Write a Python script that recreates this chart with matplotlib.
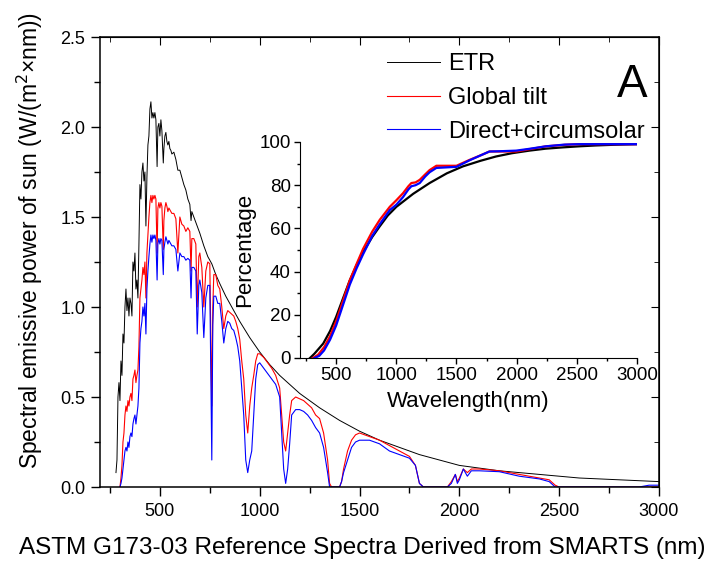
import matplotlib
matplotlib.use("Agg")
import matplotlib.pyplot as plt
from matplotlib.ticker import MultipleLocator, FormatStrFormatter

plt.rcParams['font.family'] = ['Liberation Sans', 'DejaVu Sans']

# ---------------- main spectra ----------------
etr_wl = [280, 285, 290, 295, 300, 305, 310, 315, 320, 325, 330, 335, 340, 345, 350,
          355, 360, 365, 370, 375, 380, 385, 390, 395, 400, 405, 410, 415, 420, 425,
          430, 435, 440, 445, 450, 455, 460, 465, 470, 475, 480, 486, 490, 495, 500,
          505, 510, 517, 520, 525, 530, 535, 540, 545, 550, 555, 560, 570, 580, 590,
          600, 610, 620, 630, 640, 650, 656, 660, 680, 700, 720, 740, 760, 780, 800,
          830, 860, 900, 950, 1000, 1050, 1100, 1150, 1200, 1300, 1400, 1500, 1600,
          1700, 1800, 1900, 2000, 2200, 2400, 2600, 2800, 3000]
etr_val = [0.08, 0.15, 0.50, 0.58, 0.48, 0.70, 0.62, 0.85, 0.80, 1.00, 1.10, 0.98, 1.05, 0.95, 1.05,
           1.02, 0.95, 1.25, 1.20, 1.30, 1.10, 1.15, 1.05, 1.35, 1.68, 1.60, 1.75, 1.80, 1.70, 1.75,
           1.45, 1.72, 1.90, 1.95, 2.10, 2.14, 2.05, 2.08, 2.05, 2.08, 2.04, 1.78, 2.00, 2.02, 1.95,
           2.04, 1.98, 1.80, 1.88, 1.95, 1.97, 1.92, 1.90, 1.92, 1.88, 1.87, 1.85, 1.86, 1.82, 1.76,
           1.76, 1.72, 1.68, 1.65, 1.60, 1.57, 1.48, 1.53, 1.47, 1.41, 1.34, 1.28, 1.24, 1.18, 1.13,
           1.06, 1.00, 0.92, 0.83, 0.75, 0.68, 0.62, 0.57, 0.52, 0.44, 0.37, 0.31, 0.26,
           0.22, 0.18, 0.15, 0.12, 0.09, 0.07, 0.05, 0.04, 0.03]

glob_wl = [300, 305, 310, 315, 320, 325, 330, 335, 340, 345, 350, 355, 360, 365, 370,
           375, 380, 385, 390, 395, 400, 405, 410, 415, 420, 425, 430, 435, 440, 445,
           450, 455, 460, 465, 470, 475, 480, 486, 490, 495, 500, 505, 510, 517, 520,
           525, 530, 535, 540, 545, 550, 560, 570, 580, 590, 600, 610, 620, 630, 640,
           650, 656, 660, 670, 680, 687, 695, 700, 710, 720, 730, 740, 750, 760, 765,
           770, 780, 790, 800, 810, 820, 830, 840, 850, 860, 870, 880, 890, 900, 910,
           920, 930, 940, 950, 960, 970, 980, 990, 1000, 1020, 1040, 1060, 1080, 1100,
           1110, 1120, 1130, 1140, 1150, 1160, 1180, 1200, 1220, 1240, 1260, 1280, 1300,
           1320, 1340, 1350, 1360, 1400, 1410, 1420, 1440, 1460, 1480, 1500, 1550, 1600,
           1650, 1700, 1750, 1780, 1800, 1820, 1940, 1960, 1980, 1990, 2000, 2020, 2040,
           2060, 2100, 2200, 2300, 2400, 2450, 2480, 2500, 3000]
glob_val = [0.00, 0.05, 0.12, 0.25, 0.30, 0.40, 0.45, 0.42, 0.48, 0.45, 0.50, 0.52, 0.48, 0.60, 0.62,
            0.65, 0.58, 0.62, 0.65, 0.78, 1.05, 1.10, 1.15, 1.22, 1.18, 1.25, 1.05, 1.30, 1.40, 1.50,
            1.58, 1.62, 1.58, 1.62, 1.60, 1.62, 1.60, 1.30, 1.55, 1.58, 1.55, 1.58, 1.56, 1.32, 1.48,
            1.55, 1.58, 1.56, 1.53, 1.55, 1.54, 1.52, 1.52, 1.49, 1.30, 1.50, 1.46, 1.45, 1.42, 1.44,
            1.42, 1.20, 1.38, 1.38, 1.35, 1.00, 1.28, 1.30, 1.22, 1.00, 1.20, 1.25, 1.24, 0.45, 1.00,
            1.18, 1.18, 1.12, 1.10, 1.00, 0.88, 0.95, 0.98, 0.97, 0.96, 0.95, 0.92, 0.88, 0.82, 0.70,
            0.60, 0.40, 0.30, 0.45, 0.55, 0.62, 0.70, 0.74, 0.74, 0.72, 0.69, 0.66, 0.62, 0.55,
            0.40, 0.25, 0.20, 0.30, 0.40, 0.48, 0.50, 0.49, 0.48, 0.46, 0.44, 0.40, 0.38,
            0.30, 0.15, 0.02, 0.00, 0.00, 0.03, 0.10, 0.20, 0.26, 0.29, 0.30, 0.28, 0.26,
            0.23, 0.20, 0.17, 0.12, 0.02, 0.00, 0.00, 0.03, 0.07, 0.03, 0.05, 0.10, 0.08,
            0.10, 0.10, 0.09, 0.07, 0.05, 0.04, 0.01, 0.00, 0.00]

dir_wl = [300, 305, 310, 315, 320, 325, 330, 335, 340, 345, 350, 355, 360, 365, 370,
          375, 380, 385, 390, 395, 400, 405, 410, 415, 420, 425, 430, 435, 440, 445,
          450, 455, 460, 465, 470, 475, 480, 486, 490, 495, 500, 505, 510, 517, 520,
          525, 530, 535, 540, 545, 550, 560, 570, 580, 590, 600, 610, 620, 630, 640,
          650, 656, 660, 670, 680, 687, 695, 700, 710, 720, 730, 740, 750, 760, 765,
          770, 780, 790, 800, 810, 820, 830, 840, 850, 860, 870, 880, 890, 900, 910,
          920, 930, 940, 950, 960, 970, 980, 990, 1000, 1020, 1040, 1060, 1080, 1100,
          1110, 1120, 1130, 1140, 1150, 1160, 1180, 1200, 1220, 1240, 1260, 1280, 1300,
          1320, 1340, 1350, 1360, 1400, 1410, 1420, 1440, 1460, 1480, 1500, 1550, 1600,
          1650, 1700, 1750, 1780, 1800, 1820, 1940, 1960, 1980, 1990, 2000, 2020, 2040,
          2060, 2100, 2200, 2300, 2400, 2450, 2480, 2500, 2900, 2950, 3000]
dir_val = [0.00, 0.02, 0.05, 0.10, 0.15, 0.20, 0.22, 0.20, 0.25, 0.22, 0.28, 0.30, 0.28, 0.35, 0.38,
           0.40, 0.35, 0.40, 0.45, 0.55, 0.80, 0.88, 0.92, 1.00, 0.95, 1.02, 0.85, 1.10, 1.20, 1.28,
           1.35, 1.40, 1.36, 1.40, 1.38, 1.40, 1.37, 1.15, 1.35, 1.38, 1.35, 1.38, 1.37, 1.18, 1.32,
           1.36, 1.39, 1.37, 1.35, 1.37, 1.36, 1.34, 1.34, 1.32, 1.20, 1.30, 1.28, 1.28, 1.26, 1.27,
           1.26, 1.05, 1.22, 1.22, 1.20, 0.85, 1.12, 1.15, 1.08, 0.83, 1.05, 1.12, 1.12, 0.15, 0.90,
           1.06, 1.06, 1.02, 1.02, 0.92, 0.80, 0.88, 0.92, 0.91, 0.88, 0.87, 0.83, 0.78, 0.70, 0.55,
           0.40, 0.15, 0.08, 0.15, 0.20, 0.40, 0.60, 0.68, 0.69, 0.66, 0.63, 0.60, 0.57, 0.50,
           0.30, 0.10, 0.02, 0.10, 0.24, 0.40, 0.43, 0.43, 0.42, 0.40, 0.37, 0.33, 0.30,
           0.22, 0.08, 0.00, 0.00, 0.00, 0.03, 0.08, 0.15, 0.22, 0.25, 0.26, 0.26, 0.24,
           0.20, 0.18, 0.16, 0.12, 0.02, 0.00, 0.00, 0.02, 0.07, 0.02, 0.04, 0.10, 0.06,
           0.09, 0.09, 0.085, 0.06, 0.045, 0.03, 0.00, 0.00, 0.00, 0.01, 0.01]

# ---------------- inset cumulative (percentage) ----------------
cum_etr_wl = [283, 320, 393, 450, 500, 560, 614, 670, 724, 800, 863, 930, 1001, 1140, 1277,
              1420, 1553, 1700, 1829, 1960, 2105, 2240, 2381, 2520, 2658, 2800, 3000]
cum_etr = [0, 2, 6.7, 12.5, 19, 28, 36, 43, 49, 56, 61, 66, 70, 76, 81,
           85.5, 88.7, 91.3, 93.3, 94.8, 96, 96.9, 97.5, 98, 98.4, 98.7, 99]
cum_glob_wl = [306, 350, 400, 449, 500, 560, 614, 670, 724, 800, 863, 946, 1000, 1056, 1100,
               1125, 1160, 1195, 1240, 1277, 1333, 1400, 1500, 1608, 1700, 1774, 1850, 1995,
               2100, 2243, 2400, 2519, 2700, 3000]
cum_glob = [0, 1.5, 5, 10, 17, 27, 36, 43.5, 50.5, 58.5, 64, 70, 73, 76.3, 79.5,
            81, 81.3, 82.5, 85, 87, 89, 89, 89, 91.7, 93.8, 95.6, 95.6, 95.6,
            96.6, 98, 98.7, 99, 99, 99]
cum_dir_wl = [320, 360, 400, 450, 500, 560, 614, 670, 724, 800, 863, 946, 1001, 1056, 1100,
              1125, 1160, 1195, 1240, 1277, 1333, 1400, 1500, 1608, 1700, 1774, 1850, 1995,
              2100, 2243, 2400, 2519, 2700, 3000]
cum_dir = [0, 1, 3.5, 8.5, 15, 25, 34, 41.5, 48, 56.5, 62, 68.5, 71, 74.5, 78,
           79.5, 80, 81, 84, 86, 88, 88.2, 88.5, 91.5, 93.8, 95.6, 95.7, 96,
           96.8, 98, 98.8, 99, 99, 99]

W, H = 712, 565
fig = plt.figure(figsize=(W / 100, H / 100), dpi=100)

# main axes
ax = fig.add_axes([100 / W, 1 - 487 / H, 559 / W, 450 / H])
ax.plot(etr_wl, etr_val, color='black', lw=0.7, label='ETR')
ax.plot(glob_wl, glob_val, color='red', lw=0.8, label='Global tilt')
ax.plot(dir_wl, dir_val, color='blue', lw=0.8, label='Direct+circumsolar')
ax.set_xlim(200, 3000)
ax.set_ylim(0, 2.5)
ax.set_xticks([500, 1000, 1500, 2000, 2500, 3000])
ax.xaxis.set_minor_locator(MultipleLocator(250))
ax.yaxis.set_major_locator(MultipleLocator(0.5))
ax.yaxis.set_minor_locator(MultipleLocator(0.25))
ax.yaxis.set_major_formatter(FormatStrFormatter('%.1f'))
ax.tick_params(which='major', direction='out', length=6.5, width=1, labelsize=13, pad=4)
ax.tick_params(axis='x', which='major', pad=5)
ax.tick_params(which='minor', direction='out', length=4, width=1)
for s in ax.spines.values():
    s.set_linewidth(1.1)

secx = ax.secondary_xaxis('top')
secx.set_xticks([500, 1000, 1500, 2000, 2500, 3000])
secx.xaxis.set_minor_locator(MultipleLocator(250))
secx.tick_params(which='major', direction='in', length=6, labeltop=False)
secx.tick_params(which='minor', direction='in', length=3.5)
secy = ax.secondary_yaxis('right')
secy.yaxis.set_major_locator(MultipleLocator(0.5))
secy.yaxis.set_minor_locator(MultipleLocator(0.25))
secy.tick_params(which='major', direction='in', length=6, labelright=False)
secy.tick_params(which='minor', direction='in', length=3.5)

ax.set_xlabel('ASTM G173-03 Reference Spectra Derived from SMARTS (nm)', fontsize=17.5)
ax.xaxis.set_label_coords(0.470, -0.112)
ax.set_ylabel('Spectral emissive power of sun (W/(m$^2$×nm))', fontsize=16.5)
ax.yaxis.set_label_coords(-0.098, 0.549)

ax.legend(loc='upper left', bbox_to_anchor=(387 / W, 1 - 53 / H), bbox_transform=fig.transFigure,
          frameon=False, fontsize=17, handlelength=2.25, handletextpad=0.34,
          labelspacing=0.5, borderaxespad=0, borderpad=0)
ax.text(0.979, (487 - 63) / 450, 'A', transform=ax.transAxes, fontsize=33, ha='right', va='top')

# inset
axi = fig.add_axes([300 / W, 1 - 358 / H, 337 / W, 216 / H])
axi.plot(cum_etr_wl, cum_etr, color='black', lw=1.6)
axi.plot(cum_glob_wl, cum_glob, color='red', lw=1.6)
axi.plot(cum_dir_wl, cum_dir, color='blue', lw=1.6)
axi.set_xlim(200, 3000)
axi.set_ylim(0, 100)
axi.set_xticks([500, 1000, 1500, 2000, 2500, 3000])
axi.xaxis.set_minor_locator(MultipleLocator(250))
axi.yaxis.set_major_locator(MultipleLocator(20))
axi.yaxis.set_minor_locator(MultipleLocator(10))
axi.spines['top'].set_visible(False)
axi.spines['right'].set_visible(False)
axi.patch.set_alpha(0)
axi.tick_params(which='major', direction='out', length=4.5, width=1, labelsize=13.5, pad=2)
axi.tick_params(which='minor', direction='out', length=2.5, width=1)
axi.set_xlabel('Wavelength(nm)', fontsize=16, labelpad=5)
axi.set_ylabel('Percentage', fontsize=16, labelpad=3)

fig.savefig('out.png', dpi=100)
